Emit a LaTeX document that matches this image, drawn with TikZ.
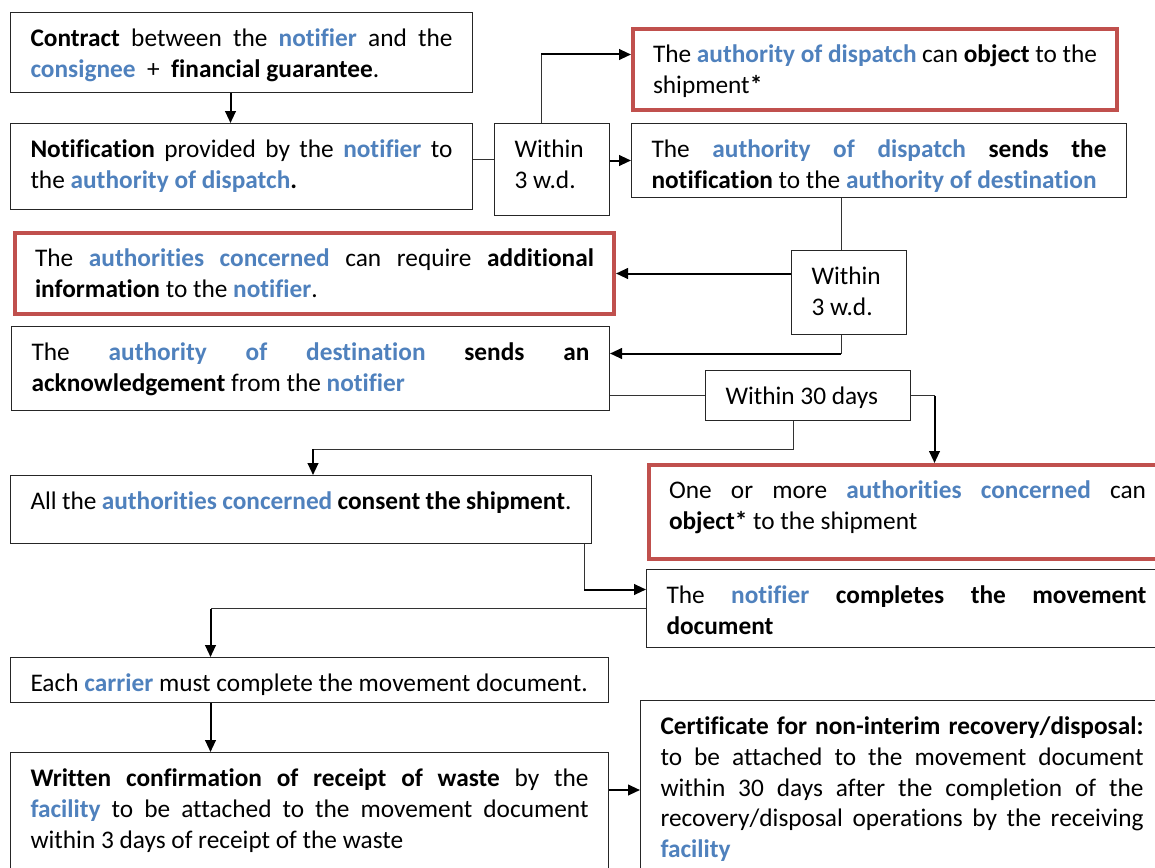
\documentclass[tikz,border=0pt]{standalone}
\usepackage{fontspec}
\setmainfont{Carlito}[Ligatures=NoCommon]
\usetikzlibrary{arrows.meta}

\definecolor{actorblue}{HTML}{4F81BD}
\definecolor{warnred}{HTML}{C0504D}

\newlength{\pxu}
\setlength{\pxu}{0.75pt}
\newcommand{\actor}[1]{\textcolor{actorblue}{\textbf{#1}}}
\newcommand{\fillbox}[3]{\parbox[c][\dimexpr#2\pxu-24\pxu\relax][t]{\dimexpr#1\pxu-40\pxu\relax}{\hyphenpenalty=10000\exhyphenpenalty=10000\strut#3}}

\begin{document}
\begin{tikzpicture}[x=0.75pt, y=-0.75pt]
        % Define styles
        \tikzset{
            stepbox/.style={draw=black!85, line width=0.75pt, anchor=north west, inner xsep=20\pxu, inner ysep=12\pxu, font=\fontsize{19}{23.2}\selectfont},
            warnbox/.style={stepbox, draw=warnred, line width=3pt},
            link/.style={draw=black!80, line width=0.75pt},
            arrow/.style={->, >={Triangle[length=9pt, width=8pt]}, line width=1.5pt}
        }

        \useasboundingbox (0,0) rectangle (1155,867);
        \clip (0,0) rectangle (1155,867);

        % Nodes
        \node[stepbox] (contract) at (10,12) {\fillbox{462}{80}{\textbf{Contract} between the \actor{notifier} and the \actor{consignee}\ \ +\ \ \textbf{financial guarantee}.}};
        \node[stepbox] (notification) at (10,123) {\fillbox{462}{86}{\textbf{Notification} provided by the \actor{notifier} to the \actor{authority of dispatch}\textbf{.}}};
        \node[stepbox] (wait_dispatch) at (494,123) {\fillbox{115}{92}{Within\\3 w.d.}};
        \node[warnbox] (object_dispatch) at (631,27) {\fillbox{484}{81}{The \actor{authority of dispatch} can \textbf{object} to the shipment\textbf{*}}};
        \node[stepbox] (send_notification) at (631,123) {\fillbox{495}{74}{The \actor{authority of dispatch} \textbf{sends the notification} to the \actor{authority of destination}}};

        \node[stepbox] (wait_destination) at (791,250) {\fillbox{115}{84}{Within\\3 w.d.}};
        \node[warnbox] (extra_info) at (13,231) {\fillbox{599}{81}{The \actor{authorities concerned} can require \textbf{additional information} to the \actor{notifier}.}};
        \node[stepbox] (acknowledge) at (11,326) {\fillbox{598}{84}{The \actor{authority of destination} \textbf{sends an acknowledgement} from the \actor{notifier}}};
        \node[stepbox] (wait_consent) at (705,370) {\fillbox{205}{50}{Within 30 days}};

        \node[warnbox] (object_concerned) at (647,463) {\fillbox{517}{94}{One or more \actor{authorities concerned} can \textbf{object*} to the shipment}};
        \node[stepbox] (consent) at (10,475) {\fillbox{581}{68}{All the \actor{authorities concerned} \textbf{consent the shipment}.}};
        \node[stepbox] (movement_doc) at (646,569) {\fillbox{520}{78}{The \actor{notifier} \textbf{completes the movement document}}};
        \node[stepbox] (carrier) at (10,657) {\fillbox{598}{45}{Each \actor{carrier} must complete the movement document.}};
        \node[stepbox] (receipt) at (10,752) {\fillbox{598}{125}{\textbf{Written confirmation of receipt of waste} by the\linebreak \actor{facility} to be attached to the movement document\linebreak within 3 days of receipt of the waste}};
        \node[stepbox] (certificate) at (640,700) {\fillbox{523}{180}{\textbf{Certificate for non-interim recovery/disposal:} to be attached to the movement document within 30 days after the completion of the recovery/disposal operations by the receiving \actor{facility}}};

        % Ends and bends
        \coordinate (n_out) at ([yshift=7\pxu]notification.east);
        \coordinate (d_up) at ([xshift=-11\pxu]wait_dispatch.north);
        \coordinate (d_in) at ([yshift=15\pxu]object_dispatch.west);
        \coordinate (c_dispatch) at (d_up |- d_in);
        \coordinate (w_top) at ([xshift=-8\pxu]wait_destination.north);
        \coordinate (w_bot) at ([xshift=-8\pxu]wait_destination.south);
        \coordinate (a_in) at ([yshift=15\pxu]acknowledge.east);
        \coordinate (c_ack) at (w_bot |- a_in);
        \coordinate (o_in) at ([xshift=27\pxu]object_concerned.north);
        \coordinate (c_object) at (o_in |- wait_consent.east);
        \coordinate (t_bot) at ([xshift=-15\pxu]wait_consent.south);
        \coordinate (e_in) at ([xshift=12\pxu]consent.north);
        \coordinate (c_consent) at ([yshift=26\pxu]e_in);
        \coordinate (e_out) at ([xshift=283\pxu]consent.south);
        \coordinate (m_in) at ([yshift=19\pxu]movement_doc.west);
        \coordinate (c_complete) at (e_out |- m_in);
        \coordinate (g_in) at ([xshift=-99\pxu]carrier.north);
        \coordinate (g_out) at ([xshift=-99\pxu]carrier.south);
        \coordinate (h_in) at ([xshift=-99\pxu]receipt.north);
        \coordinate (c_carrier) at (g_in |- movement_doc.west);
        \coordinate (r_out) at ([yshift=25\pxu]receipt.east);
        \coordinate (k_out) at ([xshift=-11\pxu]contract.south);
        \coordinate (k_in) at ([xshift=-11\pxu]notification.north);

        % Arrows
        \draw[arrow] (k_out) -- (k_in);
        \draw[link] (n_out) -- (n_out -| wait_dispatch.west);
        \draw[link] (d_up) -- (c_dispatch);
        \draw[arrow] (c_dispatch) -- (d_in);
        \draw[arrow] (wait_dispatch.east |- send_notification.west) -- (send_notification.west);
        \draw[link] (w_top) -- (w_top |- send_notification.south);
        \draw[arrow] (wait_destination.west |- extra_info.east) -- (extra_info.east);
        \draw[link] (w_bot) -- (c_ack);
        \draw[arrow] (c_ack) -- (a_in);
        \draw[link] (wait_consent.west) -- (wait_consent.west -| acknowledge.east);
        \draw[link] (wait_consent.east) -- (c_object);
        \draw[arrow] (c_object) -- (o_in);
        \draw[link] (t_bot) |- (c_consent);
        \draw[arrow] (c_consent) -- (e_in);
        \draw[link] (e_out) -- (c_complete);
        \draw[arrow] (c_complete) -- (m_in);
        \draw[link] (movement_doc.west) -- (c_carrier);
        \draw[arrow] (c_carrier) -- (g_in);
        \draw[arrow] (g_out) -- (h_in);
        \draw[arrow] (r_out) -- (r_out -| certificate.west);
\end{tikzpicture}
\end{document}
